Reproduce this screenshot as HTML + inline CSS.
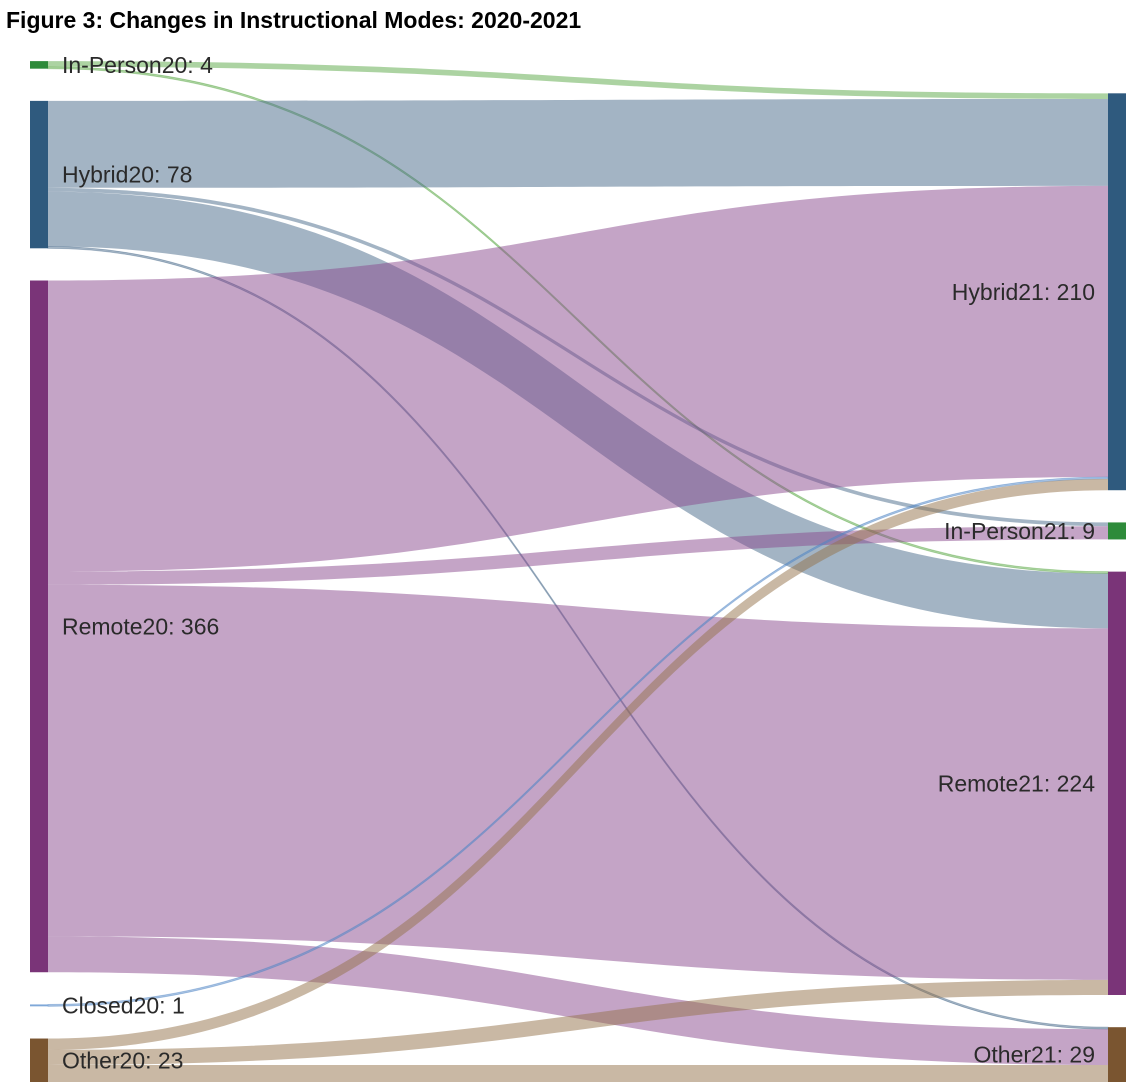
<!DOCTYPE html>
<html><head><meta charset="utf-8"><style>
body{margin:0;background:#fff;width:1142px;height:1092px;overflow:hidden;font-family:"Liberation Sans",sans-serif}
#title{position:absolute;left:6px;top:7px;font-size:23px;font-weight:bold;color:#000}
svg{position:absolute;left:0;top:0}
</style></head><body>
<div id="title">Figure 3: Changes in Instructional Modes: 2020-2021</div>
<svg id="chart" width="1142" height="1092"></svg>
<script>
const leftNodes=["In-Person20","Hybrid20","Remote20","Closed20","Other20"];
const rightNodes=["Hybrid21","In-Person21","Remote21","Other21"];
const flowSources=["In-Person20","In-Person20","Hybrid20","Hybrid20","Hybrid20","Hybrid20","Remote20","Remote20","Remote20","Remote20","Closed20","Other20","Other20","Other20"];
const flowTargets=["Hybrid21","Remote21","Hybrid21","In-Person21","Remote21","Other21","Hybrid21","In-Person21","Remote21","Other21","Hybrid21","Hybrid21","Remote21","Other21"];
const flowValues=[3,1,46,2,29,1,154,7,186,19,1,6,8,9];
const nodeColor={"In-Person20":"#2e8b3a","Hybrid20":"#2f5a7e","Remote20":"#7a3478","Closed20":"#7fa8d8","Other20":"#7a5530","Hybrid21":"#2f5a7e","In-Person21":"#2e8b3a","Remote21":"#7a3478","Other21":"#7a5530"};
const flowColor={"In-Person20":"#5aa845","Hybrid20":"#47698a","Remote20":"#8a4a8e","Closed20":"#4f86c6","Other20":"#94714a"};
const NS="http://www.w3.org/2000/svg",svg=document.getElementById('chart');
const yBottom=1082,k=1.89,pad=32.2,xL=30,xR=1108,nw=18;
function sum(n){let s=0;flowValues.forEach((v,i)=>{if(flowSources[i]===n||flowTargets[i]===n)s+=v});return s}
function layout(nodes){const tot=nodes.reduce((a,n)=>a+sum(n),0);let y=yBottom-(tot*k+(nodes.length-1)*pad);const pos={};nodes.forEach(n=>{pos[n]={y:y,h:sum(n)*k};y+=sum(n)*k+pad});return pos}
const LP=layout(leftNodes),RP=layout(rightNodes);
const outOff={},inOff={};
leftNodes.forEach(n=>outOff[n]=LP[n].y);rightNodes.forEach(n=>inOff[n]=RP[n].y);
const gF=document.createElementNS(NS,'g');svg.appendChild(gF);
flowValues.forEach((v,i)=>{
 const s=flowSources[i],t=flowTargets[i],h=v*k;
 const y0=outOff[s],y1=inOff[t];outOff[s]+=h;inOff[t]+=h;
 const x0=xL+nw,x1=xR,xm=(x0+x1)/2;
 const p=document.createElementNS(NS,'path');
 p.setAttribute('d',`M${x0},${y0}C${xm},${y0} ${xm},${y1} ${x1},${y1}L${x1},${y1+h}C${xm},${y1+h} ${xm},${y0+h} ${x0},${y0+h}Z`);
 p.setAttribute('fill',flowColor[s]);p.setAttribute('fill-opacity','0.5');
 if(h<3){p.setAttribute('stroke',flowColor[s]);p.setAttribute('stroke-opacity','0.45');p.setAttribute('stroke-width','0.8');}
 
 
 gF.appendChild(p);
});
function drawNodes(pos,x,right){
 Object.keys(pos).forEach(n=>{
  const r=document.createElementNS(NS,'rect');
  r.setAttribute('x',x);r.setAttribute('y',pos[n].y);r.setAttribute('width',nw);r.setAttribute('height',Math.max(pos[n].h,1.5));
  r.setAttribute('fill',nodeColor[n]);
  
  
  svg.appendChild(r);
  const tx=document.createElementNS(NS,'text');
  tx.setAttribute('x',right?x-13:x+nw+14);tx.setAttribute('y',pos[n].y+pos[n].h/2+8);
  tx.setAttribute('font-size','23');tx.setAttribute('fill','#2a2a2a');
  tx.setAttribute('font-family','Liberation Sans, sans-serif');
  if(right)tx.setAttribute('text-anchor','end');
  tx.textContent=n+': '+sum(n);
  
  
  svg.appendChild(tx);
 });
}
drawNodes(LP,xL,false);drawNodes(RP,xR,true);
</script>
</body></html>
